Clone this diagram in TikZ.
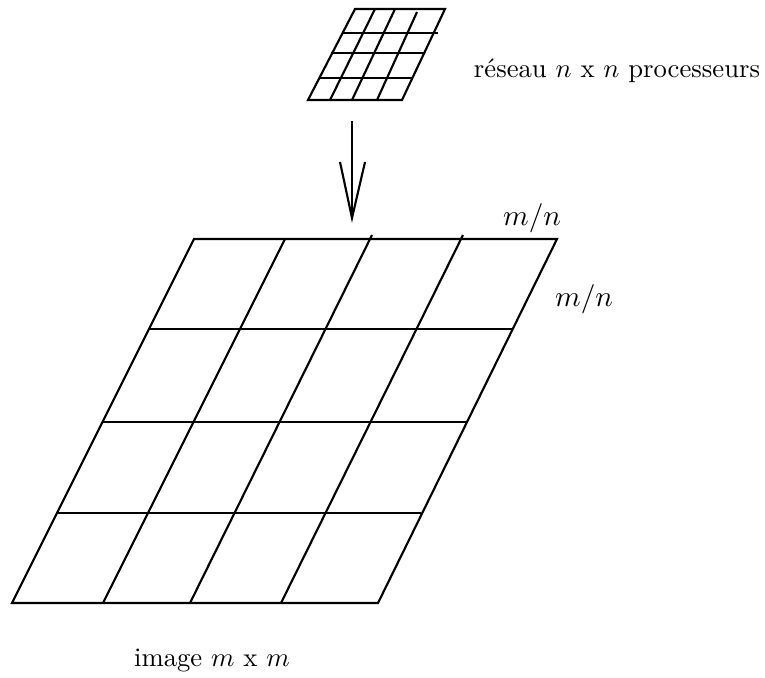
\documentclass[tikz,border=0pt]{standalone}
\begin{document}
\begin{tikzpicture}[x=0.375pt,y=-0.375pt,
  gridline/.style={line width=0.8pt, line join=miter},
  lbl/.style={inner sep=0pt, font=\normalsize},
  dimlbl/.style={inner sep=0pt, font=\fontsize{11}{13}\selectfont}]
\useasboundingbox (0,0) rectangle (765,677);
% large grid (image m x m)
\coordinate (B1) at (12,603);
\coordinate (B2) at (378,603);
\coordinate (B3) at (557,239);
\coordinate (B4) at (194,239);
\draw[gridline] (B1) -- (B2) -- (B3) -- (B4) -- cycle;
\draw[gridline] (149,329) -- (512,329);
\draw[gridline] (103,422) -- (466,422);
\draw[gridline] (58,513) -- (421,513);
\draw[gridline] (103,603) -- (285,239);
\draw[gridline] (190,603) -- (372,235);
\draw[gridline] (281,603) -- (463,235);
% small grid (processor network)
\coordinate (S1) at (308,100);
\coordinate (S2) at (402,100);
\coordinate (S3) at (445,9);
\coordinate (S4) at (355,9);
\draw[gridline] (S1) -- (S2) -- (S3) -- (S4) -- cycle;
\draw[gridline] (342,33) -- (438,33);
\draw[gridline] (331,53) -- (424,53);
\draw[gridline] (319,78) -- (412,78);
\draw[gridline] (330,100) -- (375,9);
\draw[gridline] (352,100) -- (395,9);
\draw[gridline] (377,100) -- (417,12);
% arrow
\coordinate (atop) at (352,121);
\coordinate (atip) at (352,218);
\coordinate (aleft) at (340,162);
\coordinate (aright) at (365,162);
\draw[gridline] (atop) -- (atip);
\draw[gridline] (aleft) -- (atip) -- (aright);
% labels
\node[lbl] (reseau) at (617,71) {réseau $n$ x $n$ processeurs};
\node[lbl] (image) at (212,660) {image $m$ x $m$};
\node[dimlbl] (mnA) at (532,218) {$m/n$};
\node[dimlbl] (mnB) at (584,299) {$m/n$};
\end{tikzpicture}
\end{document}
